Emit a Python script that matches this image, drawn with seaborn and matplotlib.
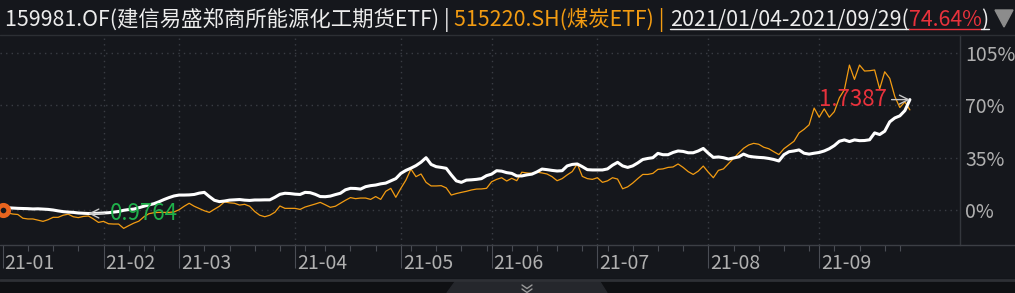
import numpy as np
import pandas as pd
import matplotlib
matplotlib.use("Agg")
import matplotlib.pyplot as plt
import seaborn as sns
from matplotlib.lines import Line2D
from matplotlib.patches import Polygon
from matplotlib.transforms import ScaledTranslation

# ---------------- data ----------------
holidays = ["2021-02-11", "2021-02-12", "2021-02-15", "2021-02-16", "2021-02-17",
            "2021-04-05", "2021-05-03", "2021-05-04", "2021-05-05", "2021-06-14",
            "2021-09-20", "2021-09-21"]
start_date = "2021-01-04"
end_date = "2021-09-29"

# 159981.OF cumulative return (%)
fund_pct = [
    1.2, 1.5, 1.3, 1.1, 1.0, 0.9, 0.7, 0.8, 0.6, 0.4,
    0.0, -0.6, -1.1, -1.4, -1.6, -2.0, -2.2, -2.36, -2.3, -2.2,
    -2.0, -1.8, -1.4, -1.0, -0.2, 0.3, 0.6, 1.5, 2.5, 3.4,
    4.2, 5.5, 7.0, 8.3, 9.4, 10.0, 10.0, 10.1, 10.4, 11.3,
    11.8, 9.0, 6.5, 5.6, 6.0, 6.6, 6.8, 7.0, 6.6, 6.4,
    6.7, 6.7, 6.8, 6.8, 8.5, 10.5, 11.2, 11.0, 10.6, 10.4,
    11.8, 11.6, 10.5, 9.0, 8.9, 9.3, 10.3, 11.2, 13.5, 14.5,
    14.4, 14.0, 15.6, 16.3, 16.7, 17.5, 18.0, 19.5, 21.0, 24.5,
    26.5, 28.0, 29.7, 32.0, 35.0, 30.5, 29.0, 28.5, 27.9, 23.5,
    19.5, 18.5, 20.0, 20.2, 20.5, 21.0, 23.0, 24.0, 26.3, 26.0,
    25.0, 24.5, 22.8, 22.8, 23.5, 24.0, 25.5, 27.4, 27.0, 26.5,
    26.1, 26.3, 29.5, 30.5, 30.8, 29.0, 27.0, 26.8, 26.8, 26.8,
    27.5, 30.0, 31.9, 29.5, 28.5, 29.5, 31.5, 33.8, 34.5, 35.0,
    37.9, 37.0, 37.0, 38.5, 39.5, 39.2, 38.3, 38.3, 39.5, 41.2,
    38.0, 35.2, 35.5, 35.0, 34.1, 34.8, 35.5, 37.4, 36.0, 35.5,
    35.2, 35.0, 34.5, 33.8, 32.8, 37.0, 39.0, 39.5, 40.2, 38.0,
    37.4, 38.0, 38.5, 39.5, 41.0, 43.1, 46.0, 46.9, 45.8, 46.9,
    46.4, 46.5, 47.0, 51.6, 50.5, 52.7, 59.0, 61.6, 63.0, 66.5, 73.87,
]

# 515220.SH cumulative return (%)
coal_pct = [
    0.0, -2.0, -2.7, -3.0, -5.5, -6.0, -6.0, -6.8, -7.6, -6.5,
    -4.9, -4.9, -3.5, -2.8, -4.5, -5.1, -4.3, -4.0, -6.0, -8.3,
    -7.6, -9.2, -9.4, -9.4, -12.3, -10.5, -8.8, -7.5, -4.6, -2.5,
    -1.8, -1.6, -1.6, -1.6, -1.3, 0.2, 2.5, 4.5, 2.5, 1.0,
    -0.5, -1.6, 0.5, 2.5, 5.4, 4.8, 4.5, 3.3, 3.8, 2.5,
    -1.0, -3.5, -4.5, -3.5, -1.5, 2.7, 1.1, 1.1, 1.1, 0.4,
    2.0, 3.0, 4.0, 5.1, 3.5, 1.8, 2.5, 4.5, 6.5, 8.3,
    7.6, 8.0, 8.0, 7.1, 9.0, 7.1, 12.5, 14.5, 8.5, 14.5,
    20.0, 27.4, 22.3, 24.1, 18.5, 16.1, 16.1, 16.3, 14.8, 10.0,
    11.0, 11.8, 12.5, 13.4, 14.0, 14.1, 14.5, 18.9, 20.5, 21.6,
    19.4, 21.2, 19.6, 25.3, 24.8, 24.5, 25.3, 24.8, 24.1, 22.3,
    19.6, 21.0, 23.5, 25.7, 30.8, 22.5, 21.0, 20.5, 21.6, 18.5,
    19.5, 21.6, 20.7, 14.2, 15.5, 18.0, 21.0, 23.8, 23.8, 24.5,
    27.2, 27.5, 28.5, 28.8, 30.8, 28.5, 25.7, 23.8, 26.0, 29.4,
    25.3, 21.6, 26.5, 27.5, 31.0, 34.5, 38.0, 41.3, 43.5, 44.6,
    44.0, 42.0, 41.0, 39.0, 37.1, 41.0, 43.5, 46.0, 51.6, 54.0,
    57.0, 68.2, 62.1, 67.7, 62.1, 65.8, 75.0, 80.5, 97.0, 87.4,
    97.0, 93.0, 93.2, 93.7, 81.0, 92.5, 88.1, 76.0, 68.6, 72.4, 67.0,
]

y_ticks = [0, 35, 70, 105]
title_parts = ["159981.OF(建信易盛郑商所能源化工期货ETF) | ", "515220.SH(煤炭ETF) | ",
               "2021/01/04-2021/09/29(", "74.64%", ")"]

# ---------------- setup ----------------
dates = pd.bdate_range(start_date, end_date)
dates = dates[~dates.isin(pd.to_datetime(holidays))]
df = pd.DataFrame({"idx": np.arange(len(dates)), "date": dates,
                   "fund": fund_pct, "coal": coal_pct})

BG = "#15171c"
GRID = "#3a3d44"
AXC = "#34373d"
TXT = "#b0b0b0"
WHITE = "#ffffff"
ORANGE = "#f39c12"
RED = "#e8323c"
GREEN = "#1fb04a"
FONT = ["Noto Sans CJK SC", "DejaVu Sans"]

sns.set_theme(style="dark")
plt.rcParams["font.family"] = FONT

W, H = 1015, 293
fig = plt.figure(figsize=(W / 100, H / 100), dpi=100, facecolor=BG)

def fx(px):
    return px / W

def fy(py):
    return 1 - py / H

ax_top, ax_bot, ax_right = 35, 245, 960
ax = fig.add_axes([0, fy(ax_bot), fx(ax_right), (ax_bot - ax_top) / H])
ax.set_facecolor(BG)

# scales: x(idx) = 2.7 + 5.04*idx ; y(p) = 210 - 1.4943*p
ax.set_xlim(-2.7 / 5.04, (ax_right - 2.7) / 5.04)
ax.set_ylim((210 - ax_bot) / 1.4943, (210 - ax_top) / 1.4943)

month_first = df.groupby(df["date"].dt.to_period("M"))["idx"].min().values
week_first = df.groupby(df["date"].dt.to_period("W"))["idx"].min().values
month_labels = [dates[i].strftime("%y-%m") for i in month_first]

# grid
for v in y_ticks:
    ax.axhline(v, color=GRID, lw=1, ls=(0, (1, 3)), zorder=1)
for i in month_first[1:]:
    ax.axvline(i, color=GRID, lw=1, ls=(0, (1, 3)), zorder=1)

sns.lineplot(data=df, x="idx", y="coal", color=ORANGE, lw=0.9, ax=ax, zorder=3)
sns.lineplot(data=df, x="idx", y="fund", color=WHITE, lw=2.2, ax=ax, zorder=4)

# start marker
ax.plot([0], [coal_pct[0]], marker="o", ms=7.5, mew=3.4, mfc=BG, mec="#e8641e",
        zorder=6, clip_on=False)

# min / max annotations for fund
imax = int(np.argmax(fund_pct)); vmax = fund_pct[imax]
imin = int(np.argmin(fund_pct)); vmin = fund_pct[imin]
arrow = dict(arrowstyle="->", color="#c8c8c8", lw=1, shrinkA=1, shrinkB=0)
ax.annotate(f"{1 + vmax / 100:.4f}", xy=(imax, vmax), xytext=(-23, 0),
            textcoords="offset pixels", ha="right", va="center", color=RED,
            fontsize=16, arrowprops=arrow, zorder=7)
ax.annotate(f"{1 + vmin / 100:.4f}", xy=(imin, vmin), xytext=(21, 0),
            textcoords="offset pixels", ha="left", va="center", color=GREEN,
            fontsize=16, arrowprops=arrow, zorder=7)

# axes styling
for s in ["top", "left", "bottom"]:
    ax.spines[s].set_visible(False)
ax.spines["right"].set_visible(True)
ax.spines["right"].set_color(AXC)
ax.spines["right"].set_linewidth(1)

ax.yaxis.tick_right()
ax.set_yticks(y_ticks)
ax.set_yticklabels([f"{v}%" for v in y_ticks])
ax.tick_params(axis="y", which="both", length=0, pad=3.6, labelsize=14,
               labelcolor=TXT, right=True, left=False)

ax.set_xticks(month_first)
ax.set_xticklabels(month_labels)
ax.set_xticks(week_first, minor=True)
ax.tick_params(axis="x", which="major", length=16.5, width=0.8, color="#4a4d54",
               direction="out", pad=-10.5, labelsize=14, labelcolor=TXT, bottom=True)
ax.tick_params(axis="x", which="minor", length=4, width=0.8, color="#4a4d54",
               direction="out", bottom=True)
off = ScaledTranslation(2 / 100, 0, fig.dpi_scale_trans)
for lab in ax.get_xticklabels():
    lab.set_ha("left")
    lab.set_transform(lab.get_transform() + off)
ax.set_xlabel("")
ax.set_ylabel("")

# frame lines
fig.add_artist(Line2D([0, 1], [fy(ax_bot), fy(ax_bot)], color="#3c3f45", lw=1))
fig.add_artist(Line2D([0, 1], [fy(ax_top), fy(ax_top)], color="#2c2f34", lw=1))

# bottom strip
fig.add_artist(Polygon([[0, fy(279)], [1, fy(279)], [1, 0], [0, 0]],
                       closed=True, color="#0f1013", transform=fig.transFigure))
fig.add_artist(Line2D([0, 1], [fy(280), fy(280)], color="#2e3035", lw=2))
fig.add_artist(Polygon([[fx(447), 0], [fx(455), fy(282)], [fx(600), fy(282)], [fx(607), 0]],
                       closed=True, color="#25272c", transform=fig.transFigure))
for yy in (285, 289):
    fig.add_artist(Line2D([fx(522), fx(527), fx(532)], [fy(yy), fy(yy + 3.5), fy(yy)],
                          color="#9a9a9a", lw=1))

# title
fig.canvas.draw()
renderer = fig.canvas.get_renderer()
colors = ["#ececec", ORANGE, "#ececec", RED, "#ececec"]
underline = [False, False, True, True, True]
x = 5
base = fy(26)
for txt, c, ul in zip(title_parts, colors, underline):
    t = fig.text(fx(x), base, txt, color=c, fontsize=15.4, va="baseline", ha="left",
                 family=FONT)
    bb = t.get_window_extent(renderer)
    if ul:
        fig.add_artist(Line2D([fx(x), fx(x + bb.width)], [fy(29), fy(29)], color=c, lw=1))
    x += bb.width

# dropdown triangle
fig.add_artist(Polygon([[fx(995), fy(10)], [fx(1013), fy(10)], [fx(1004), fy(27)]],
                       closed=True, color="#8c8c8c", transform=fig.transFigure))

fig.savefig("out.png", dpi=100, facecolor=BG)
